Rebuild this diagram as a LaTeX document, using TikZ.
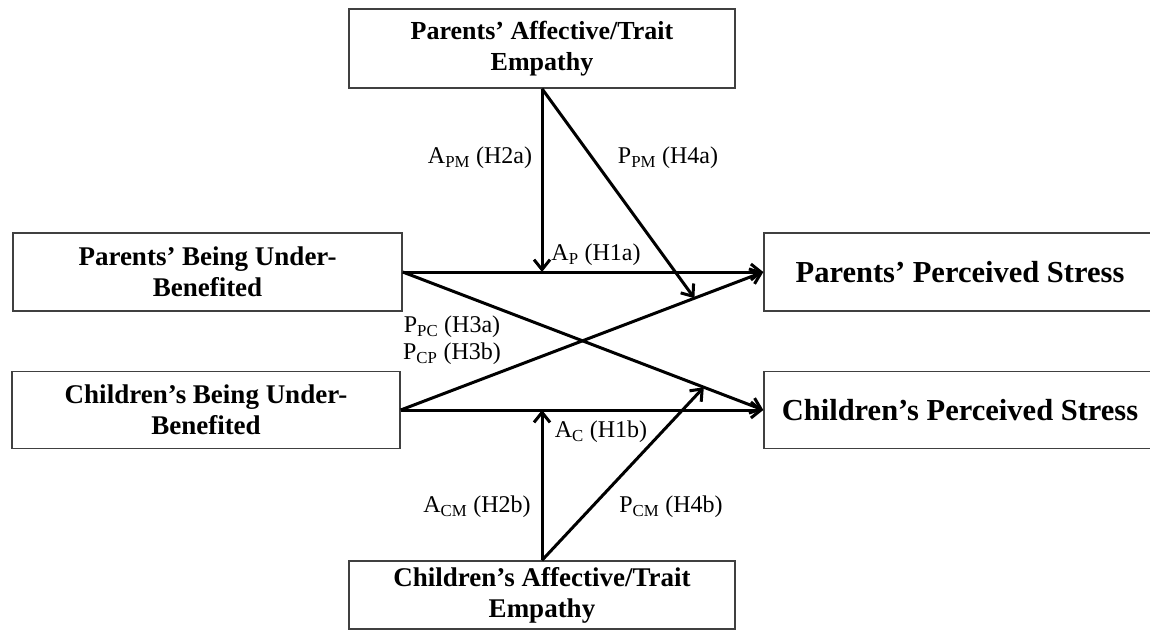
\documentclass[tikz,border=0pt]{standalone}
\usepackage{fontspec}
\setmainfont{Liberation Serif}
\usetikzlibrary{arrows.meta,calc}

\begin{document}
\begin{tikzpicture}
  [x=1pt,y=-1pt,>={Straight Barb[length=10pt,width=16pt]},
   box/.style={draw=black!75,line width=1.4pt,align=center,inner sep=0pt,
     font=\fontsize{27}{31}\selectfont\bfseries},
   lbl/.style={font=\fontsize{24}{28}\selectfont,inner sep=0pt}]
  \useasboundingbox (0,0) rectangle (1150,631);
  \node[box,minimum width=386pt,minimum height=79pt,font=\fontsize{26}{31}\selectfont\bfseries] (pem) at (542,48.5) {Parents’ Affective/Trait\\Empathy};
  \node[box,minimum width=389pt,minimum height=78pt] (pub) at (207.5,272) {Parents’ Being Under-\\Benefited};
  \node[box,minimum width=388pt,minimum height=77pt] (cub) at (206,410) {Children’s Being Under-\\Benefited};
  \node[box,minimum width=392pt,minimum height=78pt,font=\fontsize{30.5}{36}\selectfont\bfseries] (pps) at (960,272) {Parents’ Perceived Stress};
  \node[box,minimum width=392pt,minimum height=77pt,font=\fontsize{30.5}{36}\selectfont\bfseries] (cps) at (960,410) {Children’s Perceived Stress};
  \node[box,minimum width=386pt,minimum height=68pt] (cem) at (542,595) {Children’s Affective/Trait\\Empathy};

  \coordinate (ap) at (pem.south |- pub.east);
  \coordinate (ac) at (cem.north |- cub.east);
  \coordinate (ppm) at ($(cub.east)!0.81!(pps.west)$);
  \coordinate (pcm) at ($(pub.east)!0.835!(cps.west)$);

  \node[lbl] (lapm) at (480,158) {A\textsubscript{PM} (H2a)};
  \node[lbl] (lppm) at (668,158) {P\textsubscript{PM} (H4a)};
  \node[lbl] (lap) at (596,255) {A\textsubscript{P} (H1a)};
  \node[lbl] (lppc) at (452,327) {P\textsubscript{PC} (H3a)};
  \node[lbl] (lpcp) at (452,354) {P\textsubscript{CP} (H3b)};
  \node[lbl] (lac) at (601,432) {A\textsubscript{C} (H1b)};
  \node[lbl] (lacm) at (477,507) {A\textsubscript{CM} (H2b)};
  \node[lbl] (lpcm) at (671,507) {P\textsubscript{CM} (H4b)};

 \path[->,line width=3pt]
        (pub.east) edge (pps.west)
        (cub.east) edge (cps.west)
        (pub.east) edge (cps.west)
        (cub.east) edge (pps.west)
        (pem.south) edge (ap)
        (pem.south) edge (ppm)
        (cem.north) edge (ac)
        (cem.north) edge (pcm);

\end{tikzpicture}
\end{document}
